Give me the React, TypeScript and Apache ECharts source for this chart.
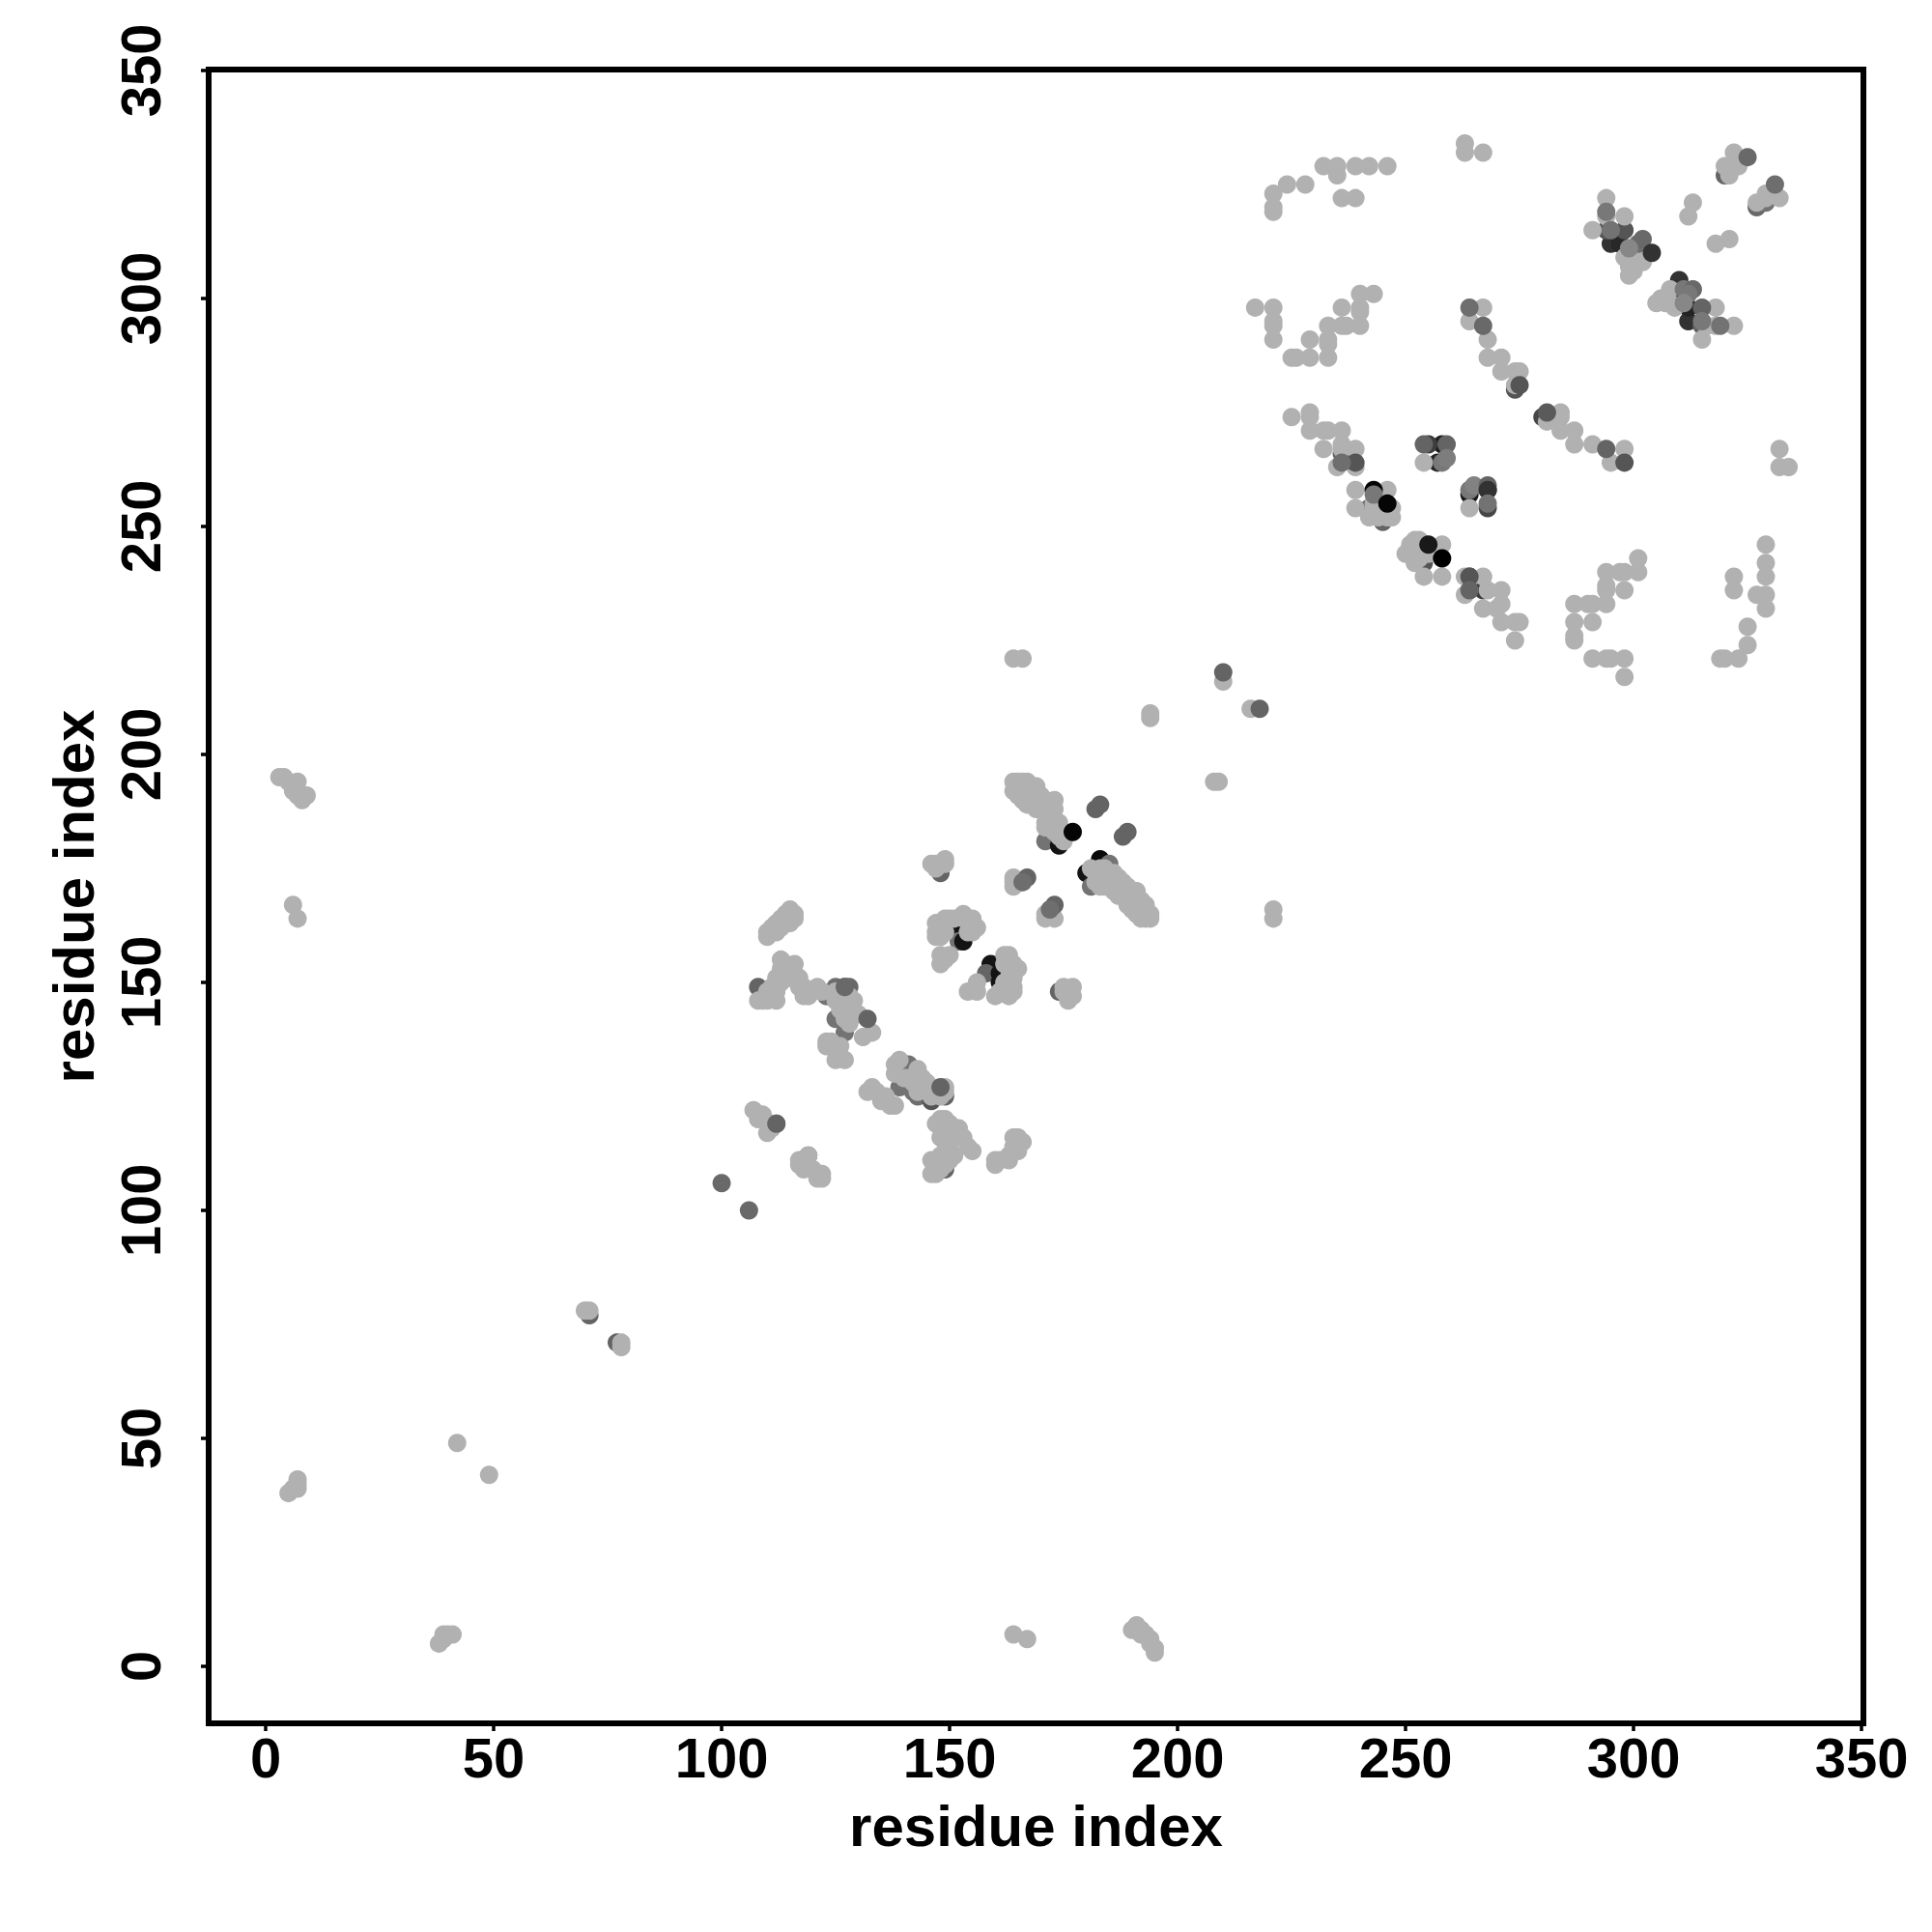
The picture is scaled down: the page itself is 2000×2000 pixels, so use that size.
import React, { useEffect, useRef } from "react";
import * as echarts from "echarts";

const tickValues = [0, 50, 100, 150, 200, 250, 300, 350];
const axisTitle = "residue index";

// [x, y, grey level], drawn beneath the light points
const darkUnder: number[][] = [
  [71,77,100],[77,71,100],[108,149,100],[123,147,115],[125,149,110],[127,149,100],[128,149,105],
  [125,142,115],[127,139,115],[139,127,115],[141,132,115],[142,126,115],[143,125,110],[146,124,85],[149,125,100],
  [149,109,100],[119,112,100],[112,119,100],[148,174,100],[150,162,20],[151,162,20],[152,159,115],[153,159,20],
  [159,154,20],[158,152,100],[161,152,20],[161,150,20],[171,181,115],[174,180,20],[180,174,20],[181,171,115],
  [183,177,10],[185,176,115],[174,148,100],
  [236,266,100],[242,254,100],[245,251,100],[251,245,100],[254,242,85],[264,239,85],[264,236,100],[267,236,60],
  [274,280,85],[280,274,70],[320,327,100],[321,329,110],[327,320,105],[329,321,115],[300,309,10],[308,300,10],
  [295,312,50],[297,312,40],[312,295,50],[312,298,35],[310,304,50],[298,315,85],[294,315,85],[315,294,100],
  [257,264,35],[264,257,25],[268,258,50],[258,268,30],[255,268,60],[268,254,70],
];

// [x, y], the common light points
const lightPts: number[][] = [
  [5,38],[6,39],[7,39],[7,40],[7,41],[42,49],[49,42],[38,5],[39,6],[39,7],[40,7],[41,7],
  [3,195],[4,195],[5,194],[6,193],[7,194],[6,192],[7,191],[8,190],[8,191],[7,192],[9,191],
  [190,8],[191,9],[192,8],[192,7],[193,7],[194,6],[194,5],[195,4],[195,3],
  [6,167],[7,164],[164,7],[167,6],[70,78],[71,78],[78,71],[78,70],
  [221,166],[221,164],[164,221],[166,221],[194,209],[194,208],[208,194],[209,194],[210,216],[216,210],
  [110,160],[110,161],[111,161],[111,162],[112,163],[113,164],[114,165],[115,166],[116,165],[116,164],[115,163],[114,163],[113,162],[112,161],
  [113,155],[116,154],[108,146],[109,146],[110,146],[112,146],[111,147],[112,148],[111,149],[112,151],[113,153],[114,152],[115,151],[117,151],[118,149],[119,147],[120,148],[121,149],[122,148],[114,154],[115,153],[116,152],[117,149],[118,147],[113,150],[110,148],
  [129,146],[127,145],[127,142],[125,146],[125,148],[128,141],[130,143],[133,139],[131,138],[126,144],[128,147],[129,143],
  [123,137],[123,136],[124,137],[125,135],[125,133],[127,133],[126,136],
  [132,126],[133,127],[134,126],[135,124],[137,123],[138,123],[136,125],
  [138,132],[139,133],[143,131],[144,129],[146,127],[149,127],[138,130],[140,129],[142,128],[145,128],[147,126],[141,129],[143,126],[146,125],[148,125],[149,126],
  [148,120],[147,119],[149,118],[151,117],[153,116],[155,113],[150,113],[154,114],[149,115],[149,120],[148,116],[150,119],[152,118],
  [146,108],[146,111],[147,108],[149,110],[150,111],[151,112],[147,110],[148,112],[148,109],[150,114],
  [160,110],[161,111],[163,111],[164,116],[166,115],[165,113],[163,112],[160,111],[164,114],[165,116],
  [107,122],[108,120],[110,117],[111,119],[109,121],[108,121],[111,118],
  [117,111],[119,112],[117,110],[121,107],[122,107],[120,109],[122,108],[118,109],
  [146,176],[147,176],[147,175],[148,176],[149,176],[149,177],
  [148,163],[147,160],[153,164],[155,163],[156,162],[149,164],[154,161],[147,163],[150,164],[147,161],[149,161],[155,161],[153,165],[155,164],[151,164],[148,160],
  [148,156],[150,156],[148,154],[149,155],
  [162,156],[164,154],[165,153],[160,147],[163,147],[164,149],[162,154],[163,156],[164,151],[162,148],[161,148],[164,148],[163,153],[162,150],[163,151],
  [154,148],[156,150],[156,148],
  [175,149],[177,149],[176,146],[177,147],[175,148],
  [164,171],[165,172],[164,172],[164,173],[166,172],[171,164],[172,165],[173,164],[171,165],
  [164,194],[165,194],[166,194],[167,194],[169,193],[164,192],[165,191],[167,192],[167,189],[169,189],[170,191],[171,190],[173,190],[173,188],[169,188],[171,187],[171,185],[171,184],[172,184],[174,185],[174,182],[175,181],[166,190],[168,191],[172,186],[173,183],
  [194,164],[193,164],[192,164],[194,165],[193,167],[191,165],[192,167],[189,167],[189,169],[191,170],[188,169],[187,171],[185,171],[184,171],[184,172],[185,174],[182,174],[181,175],[190,166],[191,168],[186,172],[183,173],[182,172],
  [183,175],[184,175],[186,174],[187,173],[188,172],[190,170],[192,168],[193,166],[189,171],[187,169],[186,170],[190,168],[185,173],[183,171],
  [221,323],[221,320],[221,319],[224,325],[228,325],[232,329],[235,329],[235,327],[239,329],[242,329],[246,329],[236,322],[239,322],[263,334],[263,332],[267,332],
  [217,298],[221,298],[221,295],[221,294],[221,291],[240,301],[243,301],[236,298],[240,298],[240,297],[240,294],[233,294],[236,294],[237,294],[233,291],[233,290],[229,291],[233,287],[229,287],[225,287],[226,287],
  [267,298],[264,295],[268,291],[268,287],[271,287],[271,284],[274,284],[275,284],[274,281],
  [281,273],[284,275],[284,274],[284,271],[287,271],[287,268],[291,268],[295,264],[298,267],
  [225,274],[229,275],[229,274],[229,271],[232,271],[233,271],[236,271],[232,267],[236,268],[236,267],[239,267],[235,263],[239,263],
  [239,258],[246,258],[239,254],[243,254],[247,254],[245,253],[242,252],[246,252],[243,255],[247,252],[245,255],[244,252],
  [251,246],[252,247],[253,247],[252,245],[252,242],[254,244],[258,246],[254,239],[258,239],[250,244],[253,245],[255,244],[253,243],
  [263,239],[267,239],[263,235],[268,236],[271,236],[267,232],[270,232],[271,233],[271,229],[274,229],[275,229],[274,225],
  [254,264],[264,254],
  [294,322],[294,318],[291,315],[298,318],[298,309],[302,308],[299,307],[299,305],[300,306],[301,308],[300,310],
  [308,302],[305,299],[307,299],[309,298],[306,300],[308,299],[318,298],[315,291],[318,294],[322,294],[316,294],
  [313,321],[312,318],[318,312],[321,313],[322,332],[321,327],[322,329],[323,329],[320,329],[329,323],[332,322],[327,321],[329,322],[330,323],
  [329,246],[329,242],[329,239],[329,235],[327,235],[329,232],[322,239],[322,236],[325,228],[325,224],[323,221],[319,221],[320,221],
  [301,243],[301,240],[298,240],[297,240],[294,240],[294,237],[294,236],[298,236],[294,233],[291,233],[290,233],[287,233],[287,229],[291,229],[287,226],[287,225],[291,221],[294,221],[295,221],[298,221],[298,217],
  [332,267],[332,263],[334,263],
];

// [x, y, grey level], drawn over the light points
const darkOver: number[][] = [
  [100,106,105],[106,100,105],[127,149,105],[132,142,100],[148,127,100],[112,119,100],
  [167,173,100],[166,172,110],[173,167,100],[172,166,110],[182,188,100],[183,189,100],[188,182,100],[189,183,100],
  [177,183,5],[210,218,100],[218,210,100],
  [264,298,110],[267,294,105],[275,281,85],[281,275,90],[294,267,100],[298,264,85],
  [239,264,85],[236,264,110],[243,258,5],[243,257,120],[246,255,5],
  [255,246,25],[258,243,0],[264,239,85],[264,236,100],
  [254,268,100],[259,268,100],[258,264,120],[259,265,125],
  [264,258,120],[265,259,130],[268,259,100],[268,258,50],[268,255,115],
  [325,331,105],[331,325,110],[294,319,120],[295,315,115],[301,312,110],[302,313,105],[299,311,135],[304,310,50],
  [311,302,120],[313,302,105],[312,301,120],[311,299,135],[315,298,100],[315,295,120],[319,294,115],
];

const grey = (g: number) => `rgb(${g},${g},${g})`;
const lightLevel = 177;
const dotSize = 19;
const font = "Liberation Sans";

const layer = (points: number[][]) => ({
  type: "scatter" as const,
  data: points,
  symbol: "circle",
  symbolSize: dotSize,
  silent: true,
  itemStyle: { opacity: 1, color: (p: any) => grey(p.value[2] ?? lightLevel) },
});

const axisBase = {
  type: "value" as const,
  min: -12.5,
  name: axisTitle,
  nameLocation: "middle" as const,
  nameTextStyle: { fontFamily: font, fontWeight: "bold" as const, fontSize: 60, color: "#000" },
  axisLine: { show: false, onZero: false },
  splitLine: { show: false },
  axisTick: { show: true, length: 8, customValues: tickValues, lineStyle: { color: "#000", width: 3.5 } },
};
const labelBase = { customValues: tickValues, fontFamily: font, fontWeight: "bold" as const, fontSize: 58, color: "#000" };

export default function App() {
  const ref = useRef<HTMLDivElement>(null);
  useEffect(() => {
    const chart = echarts.init(ref.current!, undefined, { renderer: "svg" });
    chart.setOption({
      animation: false,
      backgroundColor: "#fff",
      grid: { show: true, left: 216, top: 72, width: 1713, height: 1712, borderColor: "#000", borderWidth: 6, backgroundColor: "transparent" },
      xAxis: { ...axisBase, max: 350.4, nameGap: 76, axisLabel: { ...labelBase, margin: 6 } },
      yAxis: { ...axisBase, max: 350.2, nameGap: 110, axisLabel: { ...labelBase, rotate: 90, margin: 42 } },
      series: [layer(darkUnder), layer(lightPts), layer(darkOver)],
    });
    return () => chart.dispose();
  }, []);
  return <div ref={ref} style={{ position: "absolute", left: 0, top: 0, width: 2000, height: 2000 }} />;
}
